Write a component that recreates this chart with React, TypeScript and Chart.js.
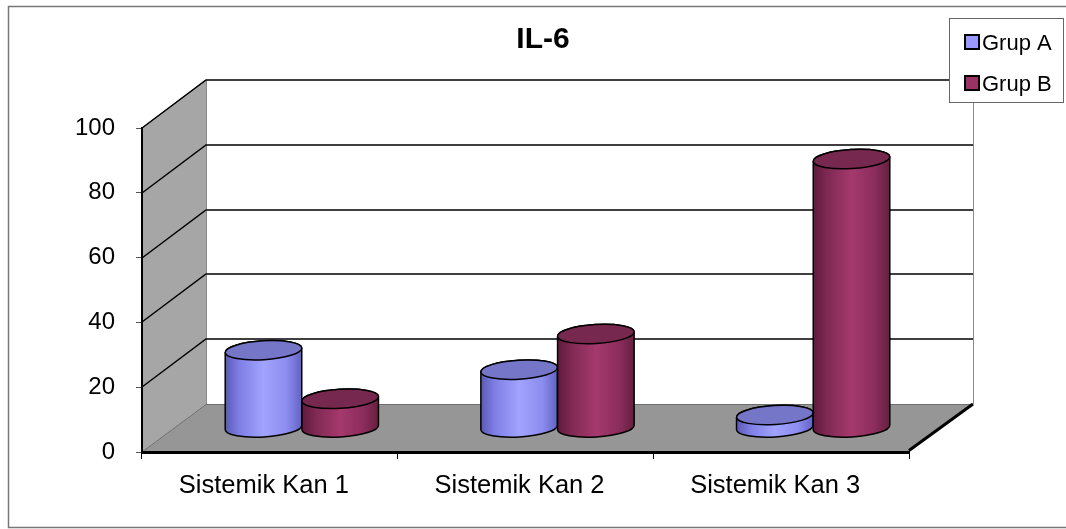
import React, { useEffect, useRef } from "react";
import { Chart, registerables } from "chart.js";

Chart.register(...registerables);

const chartTitle = "IL-6";
const categories = ["Sistemik Kan 1", "Sistemik Kan 2", "Sistemik Kan 3"];
const seriesNames = ["Grup A", "Grup B"];
const grupA = [24, 18, 4];
const grupB = [9, 29, 83];
const yMin = 0;
const yMax = 100;
const yStep = 20;

const FONT = "'Liberation Sans', Arial, sans-serif";
const DX = 64;
const DY = -48;

const palettes = [
  { side: ["#5a5ab4", "#7e7ee4", "#a2a2ff", "#8d8df0", "#6262c4"], top: "#7676c9", legend: "#9999ff" },
  { side: ["#5e1a3c", "#7f2953", "#a5396d", "#8c2d5c", "#64203f"], top: "#76284f", legend: "#993366" },
];

const threeD = {
  id: "threeD",
  beforeDraw(chart: any) {
    const ctx = chart.ctx;
    const { left, right, top, bottom } = chart.chartArea;
    const y = chart.scales.y;
    ctx.save();
    ctx.fillStyle = "#ffffff";
    ctx.fillRect(0, 0, chart.width, chart.height);
    // outer frame
    ctx.strokeStyle = "#777777";
    ctx.lineWidth = 1.5;
    ctx.strokeRect(8.5, 6.5, chart.width + 10, 521);
    // side wall
    ctx.fillStyle = "#a6a6a6";
    ctx.beginPath();
    ctx.moveTo(left, top);
    ctx.lineTo(left + DX, top + DY);
    ctx.lineTo(left + DX, bottom + DY);
    ctx.lineTo(left, bottom);
    ctx.closePath();
    ctx.fill();
    // floor
    ctx.fillStyle = "#969696";
    ctx.beginPath();
    ctx.moveTo(left, bottom);
    ctx.lineTo(left + DX, bottom + DY);
    ctx.lineTo(right + DX, bottom + DY);
    ctx.lineTo(right, bottom);
    ctx.closePath();
    ctx.fill();
    // wall edges
    ctx.strokeStyle = "#8a8a8a";
    ctx.lineWidth = 1;
    ctx.beginPath();
    ctx.moveTo(left + DX + 0.5, top + DY);
    ctx.lineTo(left + DX + 0.5, bottom + DY);
    ctx.moveTo(right + DX + 0.5, top + DY);
    ctx.lineTo(right + DX + 0.5, bottom + DY);
    ctx.stroke();
    ctx.strokeStyle = "#555555";
    ctx.beginPath();
    ctx.moveTo(left, top);
    ctx.lineTo(left + DX, top + DY);
    ctx.stroke();
    // floor back edge
    ctx.strokeStyle = "#6e6e6e";
    ctx.beginPath();
    ctx.moveTo(left, bottom);
    ctx.lineTo(left + DX, bottom + DY + 0.5);
    ctx.lineTo(right + DX, bottom + DY + 0.5);
    ctx.stroke();
    // gridlines
    ctx.strokeStyle = "#000000";
    ctx.lineWidth = 1.5;
    for (let v = yMin + yStep; v <= yMax; v += yStep) {
      const py = Math.round(y.getPixelForValue(v));
      ctx.beginPath();
      ctx.moveTo(left, py);
      ctx.lineTo(left + DX, py + DY);
      ctx.lineTo(right + DX, py + DY);
      ctx.stroke();
    }
    // floor right edge
    ctx.lineWidth = 3;
    ctx.beginPath();
    ctx.moveTo(right, bottom - 1.5);
    ctx.lineTo(right + DX, bottom + DY);
    ctx.stroke();
    ctx.restore();
  },
  afterDatasetsDraw(chart: any) {
    const ctx = chart.ctx;
    const metas = [chart.getDatasetMeta(0), chart.getDatasetMeta(1)];
    ctx.save();
    for (let i = 0; i < categories.length; i++) {
      metas.forEach((meta: any, d: number) => {
        const el = meta.data[i];
        if (!el) return;
        const p = el.getProps(["x", "y", "base", "width"], true);
        const cx = p.x + DX / 2;
        const topY = p.y + DY / 2;
        const botY = p.base + DY / 2;
        const rx = p.width / 2;
        const ry = 9.5;
        const rot = -0.06;
        const pal = palettes[d];
        const g = ctx.createLinearGradient(cx - rx, 0, cx + rx, 0);
        g.addColorStop(0, pal.side[0]);
        g.addColorStop(0.18, pal.side[1]);
        g.addColorStop(0.5, pal.side[2]);
        g.addColorStop(0.8, pal.side[3]);
        g.addColorStop(1, pal.side[4]);
        ctx.beginPath();
        ctx.ellipse(cx, botY, rx, ry, rot, 0, Math.PI, false);
        ctx.ellipse(cx, topY, rx, ry, rot, Math.PI, 2 * Math.PI, false);
        ctx.closePath();
        ctx.fillStyle = g;
        ctx.fill();
        ctx.strokeStyle = "#000000";
        ctx.lineWidth = 1.5;
        ctx.stroke();
        ctx.beginPath();
        ctx.ellipse(cx, topY, rx, ry, rot, 0, 2 * Math.PI);
        ctx.fillStyle = pal.top;
        ctx.fill();
        ctx.stroke();
      });
    }
    ctx.restore();
  },
  afterDraw(chart: any) {
    const ctx = chart.ctx;
    ctx.save();
    // title
    ctx.fillStyle = "#000000";
    ctx.font = `bold 30px ${FONT}`;
    ctx.textAlign = "center";
    ctx.textBaseline = "alphabetic";
    ctx.fillText(chartTitle, 543, 48);
    // legend
    ctx.fillStyle = "#ffffff";
    ctx.fillRect(949, 18, 114, 84);
    ctx.strokeStyle = "#666666";
    ctx.lineWidth = 1;
    ctx.strokeRect(949.5, 18.5, 114, 84);
    ctx.font = `22px ${FONT}`;
    ctx.textAlign = "left";
    seriesNames.forEach((name, i) => {
      const cy = 42 + i * 41;
      ctx.fillStyle = palettes[i].legend;
      ctx.fillRect(965, cy - 7, 14, 14);
      ctx.strokeStyle = "#000000";
      ctx.lineWidth = 2;
      ctx.strokeRect(965, cy - 7, 14, 14);
      ctx.fillStyle = "#000000";
      ctx.fillText(name, 982, cy + 8);
    });
    ctx.restore();
  },
};

export default function App() {
  const ref = useRef<HTMLCanvasElement | null>(null);
  useEffect(() => {
    if (!ref.current) return;
    const chart = new Chart(ref.current, {
      type: "bar",
      data: {
        labels: categories,
        datasets: [
          { label: seriesNames[0], data: grupA, backgroundColor: "rgba(0,0,0,0)", borderWidth: 0, categoryPercentage: 0.6, barPercentage: 1 },
          { label: seriesNames[1], data: grupB, backgroundColor: "rgba(0,0,0,0)", borderWidth: 0, categoryPercentage: 0.6, barPercentage: 1 },
        ],
      },
      options: {
        animation: false,
        responsive: false,
        layout: { padding: { left: 0, top: 128, right: 157, bottom: 0 } },
        plugins: { legend: { display: false }, title: { display: false }, tooltip: { enabled: false } },
        scales: {
          x: {
            grid: { display: true, drawOnChartArea: false, drawTicks: true, tickLength: 7, color: "#000000", offset: true },
            border: { display: true, color: "#000000", width: 3 },
            ticks: { color: "#000000", font: { family: FONT, size: 25.5 }, padding: 12, maxRotation: 0, labelOffset: -6 },
            afterFit: (s: any) => { s.height = 77; },
          },
          y: {
            min: yMin,
            max: yMax,
            grid: { display: true, drawOnChartArea: false, drawTicks: true, tickLength: 6, color: "#555555" },
            border: { display: true, color: "#000000", width: 2 },
            ticks: { stepSize: yStep, color: "#000000", font: { family: FONT, size: 24 }, padding: 21 },
            afterFit: (s: any) => { s.width = 142; },
          },
        },
      },
      plugins: [threeD],
    } as any);
    return () => chart.destroy();
  }, []);
  return (
    <div style={{ position: "absolute", left: 0, top: 0, width: 1066, height: 529 }}>
      <canvas ref={ref} width={1066} height={529} />
    </div>
  );
}
